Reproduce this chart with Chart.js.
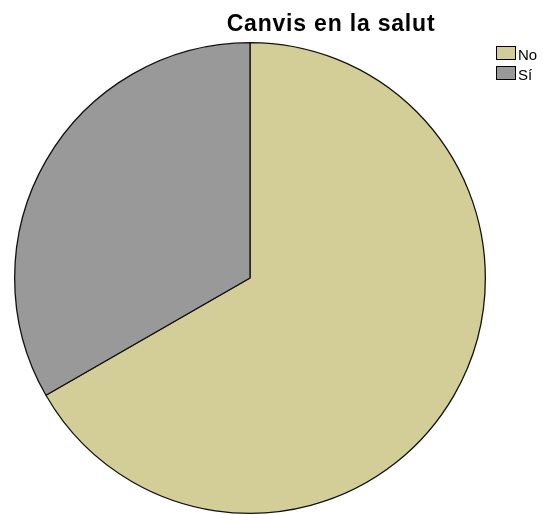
<!DOCTYPE html>
<html>
<head>
<meta charset="utf-8">
<script src="https://cdn.jsdelivr.net/npm/chart.js@4/dist/chart.umd.min.js"></script>
<style>
html,body{margin:0;padding:0;background:#fff;}
#wrap{position:relative;width:543px;height:515px;}
</style>
</head>
<body>
<div id="wrap"><canvas id="c" width="543" height="515"></canvas></div>
<script>
const chartTitle = "Canvis en la salut";
const categories = ["No", "Sí"];
const values = [66.7, 33.3];
const colors = ["#D3CE97", "#999999"];

const overlay = {
  id: 'overlay',
  afterDraw(chart) {
    const ctx = chart.ctx;
    ctx.save();
    ctx.fillStyle = '#000';
    ctx.textBaseline = 'alphabetic';
    ctx.font = 'bold 23px "Liberation Sans", Arial, sans-serif';
    ctx.textAlign = 'center';
    try { ctx.letterSpacing = '0.8px'; } catch (e) {}
    ctx.fillText(chartTitle, 331, 31);
    try { ctx.letterSpacing = '0px'; } catch (e) {}
    ctx.font = '15px "Liberation Sans", Arial, sans-serif';
    ctx.textAlign = 'left';
    categories.forEach((cat, i) => {
      const y = 46 + i * 20;
      ctx.fillStyle = colors[i];
      ctx.fillRect(496, y, 20, 14);
      ctx.strokeStyle = '#000';
      ctx.lineWidth = 1;
      ctx.strokeRect(496.5, y + 0.5, 19, 13);
      ctx.fillStyle = '#000';
      ctx.fillText(cat, 518, y + 14);
    });
    ctx.restore();
  }
};

new Chart(document.getElementById('c'), {
  type: 'pie',
  data: {
    labels: categories,
    datasets: [{
      data: values,
      backgroundColor: colors,
      borderColor: '#111',
      borderWidth: 1.3
    }]
  },
  options: {
    responsive: false,
    animation: false,
    layout: { padding: { left: 13, right: 56, top: 42, bottom: 1 } },
    plugins: {
      legend: { display: false },
      title: { display: false },
      tooltip: { enabled: false }
    }
  },
  plugins: [overlay]
});
</script>
</body>
</html>
